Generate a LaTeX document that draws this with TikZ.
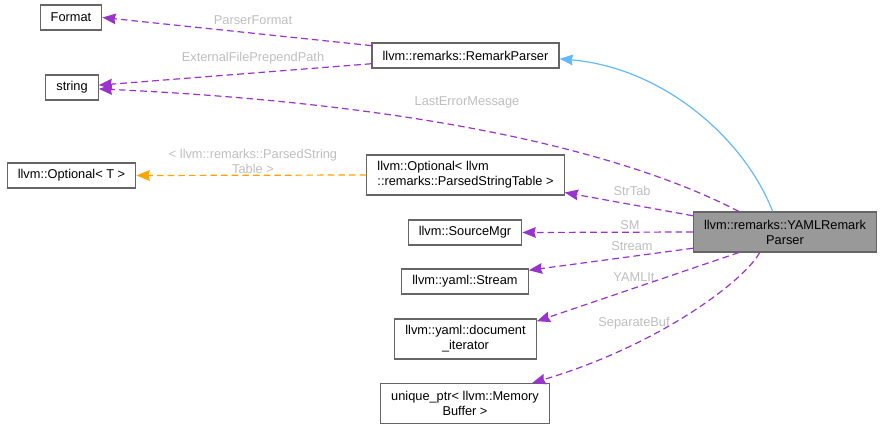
\documentclass[tikz,border=0pt]{standalone}
\usepackage{fontspec}
\setmainfont{Liberation Sans}
\usetikzlibrary{arrows.meta}
\definecolor{memberpurple}{HTML}{9A32CD}
\definecolor{templorange}{HTML}{FFA500}
\definecolor{basesky}{HTML}{63B8FF}
\definecolor{boxgray}{HTML}{666666}
\definecolor{focusgray}{HTML}{999999}
\definecolor{labelgray}{HTML}{BEBEBE}
\begin{document}
\begin{tikzpicture}[x=0.75pt, y=-0.75pt, >={Stealth[length=10pt, width=8pt, inset=1pt]},
        cls/.style={draw=boxgray, fill=white, line width=0.8pt, align=center, font=\fontsize{9.6}{11.25}\selectfont, minimum height=18.75pt, inner xsep=8pt, inner ysep=2pt},
        tall/.style={minimum height=30pt},
        member/.style={->, draw=memberpurple, line width=0.9pt, dash pattern=on 5pt off 3pt},
        lbl/.style={font=\fontsize{9.6}{11.25}\selectfont, text=labelgray, align=center, inner sep=1pt}]
    \useasboundingbox (0,0) rectangle (885,431);
    % classes
    \node[cls] (format) at (71,17.5) {Format};
    \node[cls] (string) at (72,87.5) {string};
    \node[cls] (optionalT) at (71.5,175.5) {llvm::Optional< T >};
    \node[cls] (remarkParser) at (465.5,55.5) {llvm::remarks::RemarkParser};
    \node[cls, tall, align=left] (optionalPST) at (465.5,175) {llvm::Optional< llvm\\::remarks::ParsedStringTable >};
    \node[cls] (sourceMgr) at (465,232.5) {llvm::SourceMgr};
    \node[cls] (yamlStream) at (465,281.5) {llvm::yaml::Stream};
    \node[cls, tall] (docIter) at (465.5,339) {llvm::yaml::document\\\_iterator};
    \node[cls, tall] (memBuf) at (465,403.5) {unique\_ptr< llvm::Memory\\Buffer >};
    \node[cls, tall, fill=focusgray] (yamlParser) at (785,232) {llvm::remarks::YAMLRemark\\Parser};
    % inheritance
    \draw[->, draw=basesky, line width=0.9pt] (yamlParser.121) .. controls (745,140) and (665,68) .. (remarkParser.358);
    % members
    \draw[member] (remarkParser.174) -- (format.east) node[lbl] at (253,20) {ParserFormat};
    \draw[member] (remarkParser.185) -- (string.5) node[lbl] at (253,58) {ExternalFilePrependPath};
    \draw[member] (yamlParser.156) .. controls (640,160) and (450,105) .. (string.357) node[lbl] at (467,102) {LastErrorMessage};
    \draw[->, draw=templorange, line width=0.9pt, dash pattern=on 5pt off 3pt] (optionalPST.west) -- (optionalT.east) node[lbl] at (253,161) {< llvm::remarks::ParsedString\\Table >};
    \draw[member] (yamlParser.170) -- (optionalPST.350) node[lbl] at (632,191) {StrTab};
    \draw[member] (yamlParser.west) -- (sourceMgr.east) node[lbl] at (630,225) {SM};
    \draw[member] (yamlParser.190) -- (yamlStream.10) node[lbl] at (632,246) {Stream};
    \draw[member] (yamlParser.204) -- (docIter.14) node[lbl] at (634,277) {YAMLIt};
    \draw[member] (yamlParser.219) .. controls (745,280) and (660,345) .. (memBuf.17) node[lbl] at (634,323) {SeparateBuf};
\end{tikzpicture}
\end{document}
